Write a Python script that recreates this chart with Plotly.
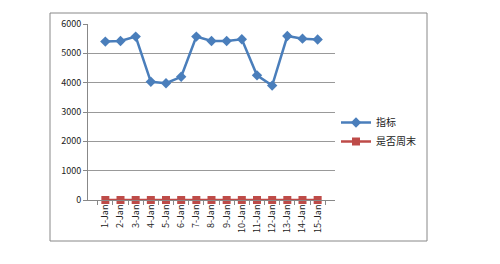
import plotly.graph_objects as go

dates = [f"{i}-Jan" for i in range(1, 16)]
indicator = [5400, 5420, 5570, 4030, 3980, 4200, 5570, 5420, 5420, 5480, 4250, 3900, 5590, 5500, 5470]
weekend = [0] * 15
y_ticks = [0, 1000, 2000, 3000, 4000, 5000, 6000]

fig = go.Figure()
fig.add_trace(go.Scatter(x=dates, y=indicator, name="指标", mode="lines+markers",
                         line=dict(color="#4A7EBB", width=2.5), cliponaxis=False,
                         marker=dict(symbol="diamond", size=8, color="#4A7EBB")))
fig.add_trace(go.Scatter(x=dates, y=weekend, name="是否周末", mode="lines+markers",
                         line=dict(color="#BE4B48", width=2.5), cliponaxis=False,
                         marker=dict(symbol="square", size=8, color="#BE4B48")))

L, R, T, B = 88, 335, 24, 200
pw, ph = R - L, B - T
fig.update_layout(
    width=500, height=264,
    margin=dict(l=L, r=500 - R, t=T, b=264 - B, pad=0),
    paper_bgcolor="white", plot_bgcolor="white",
    font=dict(family="Noto Sans CJK SC, DejaVu Sans", size=9, color="#333"),
    showlegend=True,
    legend=dict(x=(336 - L) / pw, y=(B - 108) / ph, xanchor="left", yanchor="top",
                font=dict(size=10, color="#222"), bgcolor="rgba(0,0,0,0)",
                tracegroupgap=4, itemwidth=30),
    xaxis=dict(type="category", showgrid=False, showline=True, linecolor="#888",
               ticks="outside", ticklen=4, tickcolor="#888", tickson="boundaries",
               tickangle=-90, tickfont=dict(size=9, color="#222"), fixedrange=True),
    yaxis=dict(range=[0, 6000], tickvals=y_ticks, showgrid=True, gridcolor="#999",
               gridwidth=1, showline=True, linecolor="#888", ticks="outside",
               ticklen=4, tickcolor="#888", tickfont=dict(size=9, color="#222"),
               zeroline=False, fixedrange=True),
    shapes=[dict(type="rect", xref="paper", yref="paper",
                 x0=(50 - L) / pw, x1=(427 - L) / pw,
                 y0=(B - 241) / ph, y1=(B - 13) / ph,
                 line=dict(color="#888", width=1), fillcolor="rgba(0,0,0,0)", layer="below")],
)
fig.write_html("out.html")
